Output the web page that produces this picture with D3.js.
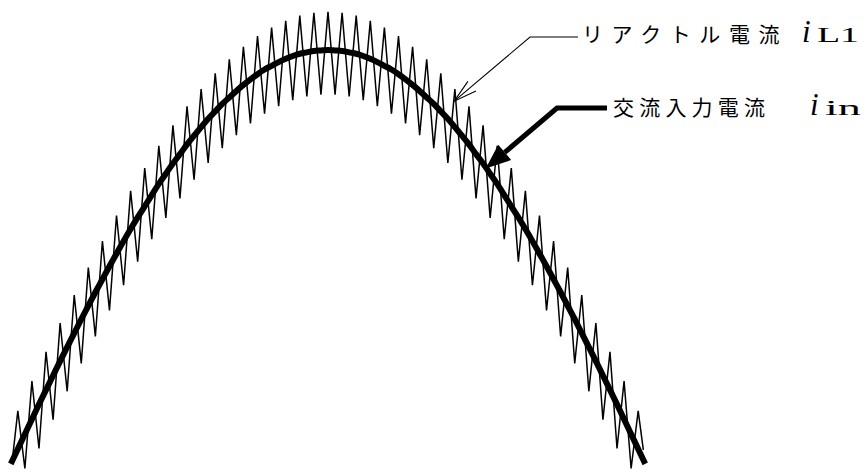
<!DOCTYPE html>
<html>
<head>
<meta charset="utf-8">
<script src="https://cdn.jsdelivr.net/npm/d3@7"></script>
<style>
  html, body { margin: 0; padding: 0; background: #fff; }
  svg { display: block; }
</style>
</head>
<body>
<svg id="chart" width="867" height="475"></svg>
<script>
// Phase of each switching instant over the half mains cycle (degrees)
const angleDeg = [
  6.30, 8.16, 10.02, 11.88, 13.74, 15.60, 17.46, 19.32, 21.18, 23.04,
  24.90, 26.76, 28.62, 30.48, 32.34, 34.20, 36.06, 37.92, 39.78, 41.64,
  43.50, 45.36, 47.22, 49.08, 50.94, 52.80, 54.66, 56.52, 58.38, 60.24,
  62.10, 63.96, 65.82, 67.68, 69.54, 71.40, 73.26, 75.12, 76.98, 78.84,
  80.70, 82.56, 84.42, 86.28, 88.14, 90.00, 91.86, 93.72, 95.58, 97.44,
  99.30, 101.16, 103.02, 104.88, 106.74, 108.60, 110.46, 112.32, 114.18, 116.04,
  117.90, 119.76, 121.62, 123.48, 125.34, 127.20, 129.06, 130.92, 132.78, 134.64,
  136.50, 138.36, 140.22, 142.08, 143.94, 145.80, 147.66, 149.52, 151.38, 153.24,
  155.10, 156.96, 158.82, 160.68, 162.54, 164.40, 166.26, 168.12, 169.98, 171.84,
  173.70
];

// AC input current i_in (per unit of its peak)
const inputCurrent = [
  0.110, 0.142, 0.174, 0.206, 0.238, 0.269, 0.300, 0.331, 0.361, 0.391,
  0.421, 0.450, 0.479, 0.507, 0.535, 0.562, 0.589, 0.615, 0.640, 0.664,
  0.688, 0.712, 0.734, 0.756, 0.776, 0.797, 0.816, 0.834, 0.852, 0.868,
  0.884, 0.898, 0.912, 0.925, 0.937, 0.948, 0.958, 0.966, 0.974, 0.981,
  0.987, 0.992, 0.995, 0.998, 0.999, 1.000, 0.999, 0.998, 0.995, 0.992,
  0.987, 0.981, 0.974, 0.966, 0.958, 0.948, 0.937, 0.925, 0.912, 0.898,
  0.884, 0.868, 0.852, 0.834, 0.816, 0.797, 0.776, 0.756, 0.734, 0.712,
  0.688, 0.664, 0.640, 0.615, 0.589, 0.562, 0.535, 0.507, 0.479, 0.450,
  0.421, 0.391, 0.361, 0.331, 0.300, 0.269, 0.238, 0.206, 0.174, 0.142,
  0.110
];

// Reactor current i_L1: turning points of the switching ripple
const reactorAngleDeg = [
  6.80, 8.16, 10.02, 11.88, 13.74, 15.60, 17.46, 19.32, 21.18, 23.04,
  24.90, 26.76, 28.62, 30.48, 32.34, 34.20, 36.06, 37.92, 39.78, 41.64,
  43.50, 45.36, 47.22, 49.08, 50.94, 52.80, 54.66, 56.52, 58.38, 60.24,
  62.10, 63.96, 65.82, 67.68, 69.54, 71.40, 73.26, 75.12, 76.98, 78.84,
  80.70, 82.56, 84.42, 86.28, 88.14, 90.00, 91.86, 93.72, 95.58, 97.44,
  99.30, 101.16, 103.02, 104.88, 106.74, 108.60, 110.46, 112.32, 114.18, 116.04,
  117.90, 119.76, 121.62, 123.48, 125.34, 127.20, 129.06, 130.92, 132.78, 134.64,
  136.50, 138.36, 140.22, 142.08, 143.94, 145.80, 147.66, 149.52, 151.38, 153.24,
  155.10, 156.96, 158.82, 160.68, 162.54, 164.40, 166.26, 168.12, 169.98, 171.84,
  173.20
];
const reactorCurrent = [
  0.125, 0.224, 0.100, 0.288, 0.143, 0.351, 0.205, 0.413, 0.266, 0.473,
  0.326, 0.532, 0.384, 0.589, 0.440, 0.644, 0.494, 0.697, 0.545, 0.746,
  0.593, 0.794, 0.639, 0.838, 0.681, 0.879, 0.721, 0.916, 0.757, 0.950,
  0.789, 0.980, 0.817, 1.007, 0.842, 1.030, 0.863, 1.048, 0.879, 1.063,
  0.892, 1.074, 0.900, 1.080, 0.904, 1.082, 0.904, 1.080, 0.900, 1.074,
  0.892, 1.063, 0.879, 1.048, 0.863, 1.030, 0.842, 1.007, 0.817, 0.980,
  0.789, 0.950, 0.757, 0.916, 0.721, 0.879, 0.681, 0.838, 0.639, 0.794,
  0.593, 0.746, 0.545, 0.697, 0.494, 0.644, 0.440, 0.589, 0.384, 0.532,
  0.326, 0.473, 0.266, 0.413, 0.205, 0.351, 0.143, 0.288, 0.100, 0.224,
  0.140
];

// Label texts
const labelNames = ["リアクトル電流", "交流入力電流"];
const labelSymbols = ["i", "i"];
const labelSubscripts = ["L1", "in"];
// Points (angle, current) the leader arrows point at
const arrowTargetAngle = [123.3, 131.6];
const arrowTargetValue = [0.890, 0.745];

const svg = d3.select("#chart");

const x = d3.scaleLinear().domain([0, 180]).range([328 - 90 * 3.79, 328 + 90 * 3.79]);
const y = d3.scaleLinear().domain([0, 1]).range([515, 50]);

const inputPts = angleDeg.map((a, i) => [a, inputCurrent[i]]);
const reactorPts = reactorAngleDeg.map((a, i) => [a, reactorCurrent[i]]);

// Reactor current with switching ripple (thin)
svg.append("path")
  .datum(reactorPts)
  .attr("fill", "none")
  .attr("stroke", "#000")
  .attr("stroke-width", 1.5)
  .attr("d", d3.line().x(d => x(d[0])).y(d => y(d[1])));

// AC input current (thick)
svg.append("path")
  .datum(inputPts)
  .attr("fill", "none")
  .attr("stroke", "#000")
  .attr("stroke-width", 6)
  .attr("stroke-linecap", "butt")
  .attr("d", d3.line().curve(d3.curveNatural).x(d => x(d[0])).y(d => y(d[1])));

// ---- Labels ----
const jpFont = "'Noto Sans CJK JP', 'Noto Sans', sans-serif";
const serif = "'Liberation Serif', 'DejaVu Serif', serif";

const labelLayout = [
  { tx: 582, ty: 42, spacing: 8.6, sx: 802, subLen: 42, elbowX: 530, lineY: 37, lineEnd: 578, thick: false },
  { tx: 613, ty: 115, spacing: 5.2, sx: 810, subLen: 36, elbowX: 557, lineY: 108, lineEnd: 607, thick: true }
];

labelNames.forEach((name, i) => {
  const L = labelLayout[i];
  const t = svg.append("text")
    .attr("x", L.tx).attr("y", L.ty)
    .attr("fill", "#000");
  t.append("tspan")
    .attr("font-family", jpFont)
    .attr("font-size", 21)
    .attr("letter-spacing", L.spacing)
    .text(name);
  t.append("tspan")
    .attr("x", L.sx)
    .attr("font-family", serif)
    .attr("font-style", "italic")
    .attr("font-size", 31)
    .text(labelSymbols[i]);
  svg.append("text")
    .attr("x", L.sx + 15).attr("y", L.ty)
    .attr("font-family", serif)
    .attr("font-size", 20)
    .attr("fill", "#000")
    .attr("textLength", L.subLen)
    .attr("lengthAdjust", "spacingAndGlyphs")
    .text(labelSubscripts[i]);

  // Leader line with arrow
  const tipX = x(arrowTargetAngle[i]);
  const tipY = y(arrowTargetValue[i]);
  const dx = L.elbowX - tipX, dy = L.lineY - tipY;
  const len = Math.hypot(dx, dy);
  const ux = dx / len, uy = dy / len;

  if (!L.thick) {
    svg.append("path")
      .attr("fill", "none")
      .attr("stroke", "#000")
      .attr("stroke-width", 1.1)
      .attr("d", `M${L.lineEnd},${L.lineY}H${L.elbowX}L${tipX},${tipY}`);
    // open arrow head
    const ang = 15 * Math.PI / 180, hl = 24;
    const rot = (a) => [ux * Math.cos(a) - uy * Math.sin(a), ux * Math.sin(a) + uy * Math.cos(a)];
    const b1 = rot(ang), b2 = rot(-ang);
    svg.append("path")
      .attr("fill", "none")
      .attr("stroke", "#000")
      .attr("stroke-width", 1.1)
      .attr("d", `M${tipX + b1[0] * hl},${tipY + b1[1] * hl}L${tipX},${tipY}L${tipX + b2[0] * hl},${tipY + b2[1] * hl}`);
  } else {
    const hl = 25, hw = 10;
    const bx = tipX + ux * hl, by = tipY + uy * hl;
    svg.append("path")
      .attr("fill", "none")
      .attr("stroke", "#000")
      .attr("stroke-width", 5)
      .attr("stroke-linejoin", "miter")
      .attr("d", `M${L.lineEnd},${L.lineY}H${L.elbowX}L${bx},${by}`);
    svg.append("path")
      .attr("fill", "#000")
      .attr("d", `M${tipX},${tipY}L${bx - uy * hw},${by + ux * hw}L${bx + uy * hw},${by - ux * hw}Z`);
  }
});
</script>
</body>
</html>
